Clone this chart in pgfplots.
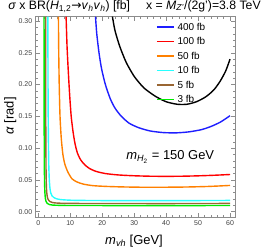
\documentclass[border=0pt]{standalone}
\usepackage{pgfplots}
\pgfplotsset{compat=1.18}
\usepackage{fontspec}
\setmainfont{Liberation Sans}
\newfontfamily\dejavu{DejaVu Sans}
\definecolor{mblue}{RGB}{30,30,255}
\definecolor{mred}{RGB}{255,0,0}
\definecolor{morange}{RGB}{255,128,0}
\definecolor{mcyan}{RGB}{40,255,255}
\definecolor{mbrown}{RGB}{153,102,51}
\definecolor{mgreen}{RGB}{0,235,0}
\begin{document}
\begin{tikzpicture}
\useasboundingbox (-35.7bp,-30.3bp) rectangle (235.3bp,216.7bp);
\begin{axis}[
  at={(0,0)}, anchor=south west,
  scale only axis, width=199.3bp, height=200bp,
  xmin=-0.81, xmax=61.56, ymin=-0.0079, ymax=0.3068,
  xtick={0,10,20,30,40,50,60},
  ytick={0,0.05,0.10,0.15,0.20,0.25,0.30},
  minor x tick num=4, minor y tick num=4,
  tick align=inside, major tick length=4bp, minor tick length=2bp,
  axis line style={black!45}, every tick/.style={black!45},
  ticklabel style={font=\fontsize{7}{8}\selectfont, text=black!75},
  /pgf/number format/assume math mode=true,
  yticklabel style={/pgf/number format/fixed, /pgf/number format/fixed zerofill, /pgf/number format/precision=2},
  xticklabel style={/pgf/number format/fixed},
  legend style={at={(axis description cs:0.6036,0.968)}, anchor=north west, draw=none, fill=none,
    font=\fontsize{10}{12}\selectfont, row sep=7.3bp, column sep=3bp, inner sep=0pt,
    nodes={inner sep=0pt, text height=7.2bp, text depth=0bp}},
  legend cell align=left,
  legend image code/.code={\draw[#1] (0bp,0bp) -- (17bp,0bp);},
  every axis plot/.append style={line width=1.4bp, smooth, tension=0.4},
]
\addplot[mblue] coordinates {(17.9,0.307)(18.3,0.28)(19.0,0.25)(19.8,0.225)(21,0.2)(22.5,0.178)(24,0.163)(26,0.15)(28.5,0.139)(31.5,0.132)(35,0.127)(39,0.1245)(43,0.124)(47,0.1255)(51,0.129)(54,0.134)(57,0.141)(60,0.151)};
\addlegendentry{400 fb}
\addplot[mred] coordinates {(8.7,0.307)(9.0,0.26)(9.4,0.22)(9.8,0.185)(10.3,0.15)(10.9,0.125)(11.5,0.107)(12.2,0.093)(13.2,0.082)(14.5,0.074)(16,0.068)(18,0.0635)(21,0.06)(25,0.0578)(30,0.0565)(35,0.0558)(40,0.0556)(45,0.0558)(50,0.0564)(55,0.0573)(60,0.0585)};
\addlegendentry{100 fb}
\addplot[morange] coordinates {(6.3,0.307)(6.4,0.25)(6.55,0.2)(6.8,0.15)(7.2,0.115)(7.7,0.09)(8.3,0.075)(9.2,0.063)(10.5,0.052)(12,0.047)(14,0.0435)(17,0.041)(21,0.0398)(26,0.039)(32,0.0385)(40,0.0385)(46,0.0388)(52,0.0395)(56,0.0403)(60,0.0413)};
\addlegendentry{50 fb}
\addplot[mcyan] coordinates {(3.0,0.307)(3.02,0.25)(3.05,0.2)(3.1,0.15)(3.2,0.1)(3.3,0.07)(3.45,0.05)(3.65,0.037)(3.9,0.0295)(4.3,0.025)(4.8,0.0225)(5.7,0.0203)(7,0.019)(9,0.0183)(12,0.0178)(20,0.0175)(30,0.0174)(40,0.0174)(50,0.0175)(60,0.0177)};
\addlegendentry{10 fb}
\addplot[mbrown] coordinates {(2.3,0.307)(2.32,0.2)(2.36,0.12)(2.42,0.07)(2.5,0.045)(2.62,0.032)(2.8,0.024)(3.1,0.019)(3.6,0.016)(4.5,0.0143)(6,0.0135)(9,0.0131)(15,0.0129)(30,0.0128)(45,0.0128)(60,0.0130)};
\addlegendentry{5 fb}
\addplot[mgreen] coordinates {(1.8,0.307)(1.82,0.2)(1.85,0.12)(1.9,0.07)(1.97,0.045)(2.07,0.03)(2.22,0.021)(2.45,0.016)(2.8,0.013)(3.5,0.0112)(4.5,0.0104)(7,0.0099)(12,0.0097)(30,0.0096)(45,0.0096)(60,0.0097)};
\addlegendentry{3 fb}
\addplot[black, forget plot] coordinates {(23.2,0.307)(24,0.285)(25.5,0.26)(27.5,0.235)(30,0.213)(33,0.195)(36.5,0.182)(40,0.173)(43.5,0.169)(46.5,0.169)(49.5,0.173)(52.5,0.181)(55,0.192)(57,0.206)(58.7,0.222)(60,0.24)};
\node[font=\fontsize{13}{15}\selectfont] at (axis cs:41.3,0.0864) {\textit{m}\textsubscript{\textit{H}\textsubscript{2}} = 150 GeV};
\end{axis}
\node[anchor=base, inner sep=0pt, font=\fontsize{12.3}{14}\selectfont] at (98.8bp,207.5bp) {\textit{σ} x BR(\textit{H}\textsubscript{1,2}{\dejavu →}\textit{v}\textsubscript{\textit{h}}\textit{v}\textsubscript{\textit{h}}) [fb]\hspace{1.3em}x = \textit{M}\textsubscript{\textit{Z'}}/(2g')=3.8 TeV};
\node[anchor=base, inner sep=0pt, font=\fontsize{13}{15}\selectfont] at (98.3bp,-27.5bp) {\textit{m}\textsubscript{\textit{vh}} [GeV]};
\node[anchor=center, inner sep=0pt, rotate=90, font=\fontsize{13}{15}\selectfont] at (-25.5bp,100.7bp) {\textit{α} [rad]};
\end{tikzpicture}
\end{document}
